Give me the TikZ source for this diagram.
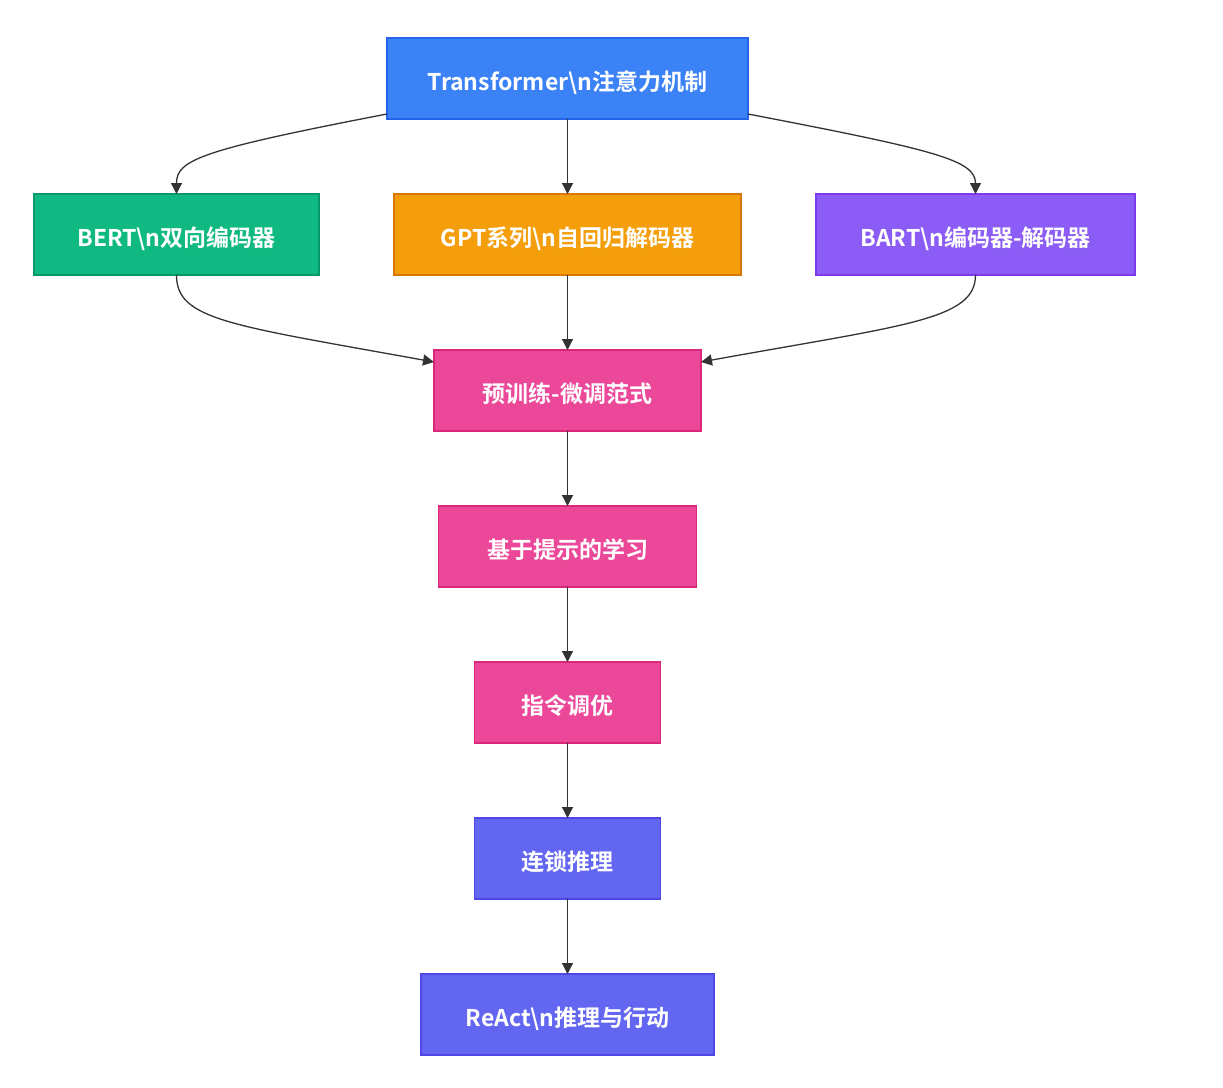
\documentclass[tikz,border=0pt]{standalone}
\usepackage{fontspec}
\setmainfont{Noto Sans CJK SC}[BoldFont={Noto Sans CJK SC Bold}]
\usepackage{tikz}
\usetikzlibrary{arrows.meta}
\usetikzlibrary{positioning}
\definecolor{cblue}{HTML}{3B82F6}
\definecolor{cbluedark}{HTML}{2563EB}
\definecolor{cgreen}{HTML}{10B981}
\definecolor{cgreendark}{HTML}{059669}
\definecolor{corange}{HTML}{F59E0B}
\definecolor{corangedark}{HTML}{D97706}
\definecolor{cpurple}{HTML}{8B5CF6}
\definecolor{cpurpledark}{HTML}{7C3AED}
\definecolor{cpink}{HTML}{EC4899}
\definecolor{cpinkdark}{HTML}{DB2777}
\definecolor{cindigo}{HTML}{6366F1}
\definecolor{cindigodark}{HTML}{4F46E5}
\definecolor{edgegray}{HTML}{333333}
\tikzstyle{box}=[draw,line width=1.3pt,minimum height=81pt,inner sep=0,outer sep=0,
                text height=24pt,text depth=0pt,
                text=white,font=\fontsize{23}{27}\selectfont\bfseries]
\tikzstyle{Mbase}=[box,fill=cblue,draw=cbluedark]
\tikzstyle{Menc}=[box,fill=cgreen,draw=cgreendark]
\tikzstyle{Mdec}=[box,fill=corange,draw=corangedark]
\tikzstyle{Mseq}=[box,fill=cpurple,draw=cpurpledark]
\tikzstyle{Mpar}=[box,fill=cpink,draw=cpinkdark]
\tikzstyle{Mrea}=[box,fill=cindigo,draw=cindigodark]
\tikzstyle{flow}=[every edge/.style={draw=edgegray,line width=1.3pt,
                  -{Triangle[length=11pt,width=11pt]}}]

\begin{document}
\begin{tikzpicture}[x=1pt,y=1pt,flow,node distance=75pt]
\path[use as bounding box] (0,0) rectangle (1223,-1087);

\node[Mbase,minimum width=361pt] (trans) at (567.5,-78.5) {Transformer\textbackslash n注意力机制};

\node[Mdec,minimum width=347pt,below=75pt of trans] (gpt) {GPT系列\textbackslash n自回归解码器};
\node[Menc,minimum width=285pt,left=75pt of gpt] (bert) {BERT\textbackslash n双向编码器};
\node[Mseq,minimum width=319pt,right=75pt of gpt] (bart) {BART\textbackslash n编码器-解码器};

\node[Mpar,minimum width=267pt,below=75pt of gpt] (pretrain) {预训练-微调范式};
\node[Mpar,minimum width=258pt,below=75pt of pretrain] (prompt) {基于提示的学习};
\node[Mpar,minimum width=186pt,below=75pt of prompt] (instr) {指令调优};
\node[Mrea,minimum width=186pt,below=75pt of instr] (cot) {连锁推理};
\node[Mrea,minimum width=293pt,below=75pt of cot] (react) {ReAct\textbackslash n推理与行动};

\path
([yshift=5pt]trans.south west) edge[to path={.. controls +(-187,-36) and +(0,34) .. (\tikztotarget)}] (bert.north)
(trans) edge (gpt)
([yshift=5pt]trans.south east) edge[to path={.. controls +(187,-36) and +(0,34) .. (\tikztotarget)}] (bart.north)
;
\path
(bert.south) edge[to path={.. controls +(0,-45) and +(-204,37) .. (\tikztotarget)}] ([yshift=-12pt]pretrain.north west)
(gpt) edge (pretrain)
(bart.south) edge[to path={.. controls +(0,-45) and +(204,37) .. (\tikztotarget)}] ([yshift=-12pt]pretrain.north east)
;
\path
(pretrain) edge (prompt)
(prompt) edge (instr)
(instr) edge (cot)
(cot) edge (react)
;

\end{tikzpicture}
\end{document}
